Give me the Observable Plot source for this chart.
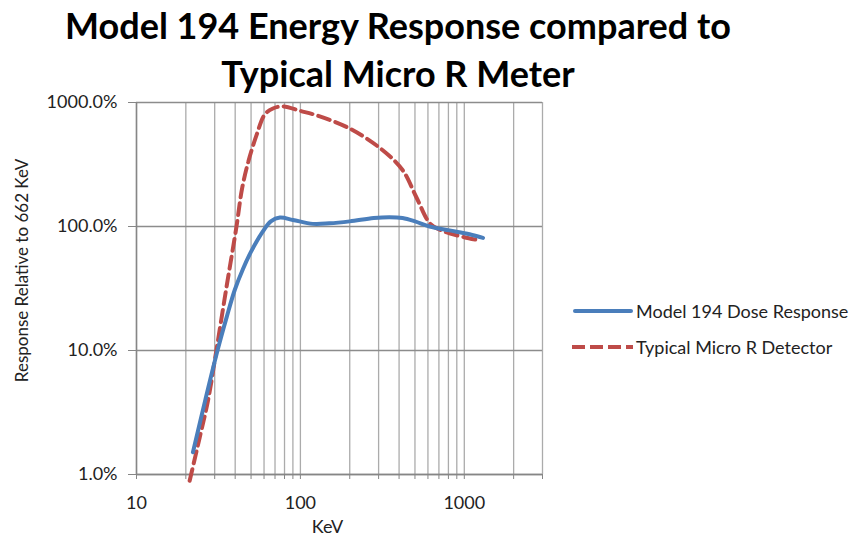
<!DOCTYPE html>
<html>
<head>
<meta charset="utf-8">
<script src="https://cdn.jsdelivr.net/npm/d3@7"></script>
<script src="https://cdn.jsdelivr.net/npm/@observablehq/plot@0.6"></script>
<style>
  html, body { margin: 0; padding: 0; background: #fff; }
  #wrap { position: relative; width: 854px; height: 537px; overflow: hidden; font-family: Lato, "Open Sans", sans-serif; }
  #chart { position: absolute; left: 0; top: 0; }
  .title { position: absolute; left: 0; width: 796px; text-align: center; font-weight: bold; font-size: 36px; line-height: 48px; color: #000; white-space: nowrap; }
  .legend { position: absolute; left: 572px; font-size: 18px; line-height: 22px; color: #222; display: flex; align-items: center; white-space: nowrap; }
  .legend svg { margin-right: 3px; }
</style>
</head>
<body>
<div id="wrap">
  <div id="chart"></div>
  <div class="title" style="top:1px">Model 194 Energy Response compared to</div>
  <div class="title" style="top:49px">Typical Micro R Meter</div>
  <div class="legend" style="top:300px"><svg width="61" height="8"><line x1="3" y1="4" x2="59" y2="4" stroke="#4A7EBB" stroke-width="4" stroke-linecap="round"/></svg>Model 194 Dose Response</div>
  <div class="legend" style="top:336px"><svg width="61" height="8"><line x1="0" y1="4" x2="61" y2="4" stroke="#BE4B48" stroke-width="4" stroke-dasharray="13,5"/></svg>Typical Micro R Detector</div>
</div>
<script>
// Series names
const seriesNames = ["Model 194 Dose Response", "Typical Micro R Detector"];

// Model 194 Dose Response (keV, % relative to 662 keV)
const modelKeV  = [22.1, 26.3, 31.2, 35.5, 39.8, 44.7, 50.1, 58.9, 66, 75, 90, 119, 150, 200, 280, 350, 420, 500, 614, 813, 1077, 1300];
const modelResp = [1.51, 4.0, 10, 18.6, 30.9, 45.7, 63, 91, 110, 118, 113, 105, 106, 110, 117, 119, 117, 110, 100, 93, 86.5, 81];

// Typical Micro R Detector
const microKeV  = [21.1, 24.3, 27.3, 30.7, 35.4, 40.7, 44, 48, 54, 60.6, 68, 78, 100, 125, 200, 318, 421, 509, 616, 700, 813, 1000, 1250];
const microResp = [0.89, 1.99, 3.94, 10, 32.4, 99, 200, 330, 545, 800, 895, 930, 855, 789, 617, 412, 284, 173, 106, 95, 88, 82, 77];

// Axis ticks
const xGrid = [10,20,30,40,50,60,70,80,90,100,200,300,400,500,600,700,800,900,1000,2000,3000];
const xLabels = [10, 100, 1000];
const yTicks = [1, 10, 100, 1000];

const xTitle = "KeV";
const yTitle = "Response Relative to 662 KeV";

const modelData = modelKeV.map((k, i) => ({keV: k, resp: modelResp[i]}));
const microData = microKeV.map((k, i) => ({keV: k, resp: microResp[i]}));

const font = "Lato, 'Open Sans', sans-serif";

const plot = Plot.plot({
  width: 854,
  height: 537,
  marginLeft: 136,
  marginRight: 312,
  marginTop: 102,
  marginBottom: 63,
  style: {fontFamily: font, background: "transparent", color: "#222"},
  x: {type: "log", domain: [10, 3000]},
  y: {type: "log", domain: [1, 1000]},
  marks: [
    Plot.ruleX(xGrid, {stroke: "#ABABAB", strokeWidth: 1.3}),
    Plot.ruleY(yTicks, {stroke: "#8C8C8C", strokeWidth: 1.3}),
    Plot.ruleX([10], {stroke: "#868686", strokeWidth: 1.5}),
    Plot.ruleY([1], {stroke: "#868686", strokeWidth: 1.5}),
    Plot.axisX({ticks: xGrid, tickSize: 5, tickPadding: 17, stroke: "#868686",
      tickFormat: d => xLabels.includes(d) ? String(d) : "", fontSize: 18, label: null}),
    Plot.axisY({ticks: yTicks, tickSize: 8, tickPadding: 11, stroke: "#868686",
      tickFormat: d => d.toFixed(1) + "%", fontSize: 18, label: null}),
    Plot.text([xTitle], {frameAnchor: "bottom", lineAnchor: "middle", dx: -12, dy: 53, fontSize: 18, fill: "#222"}),
    Plot.text([yTitle], {frameAnchor: "left", textAnchor: "middle", rotate: -90, dx: -114, dy: -18, fontSize: 17, fill: "#222"}),
    Plot.line(microData, {x: "keV", y: "resp", curve: "catmull-rom", stroke: "#BE4B48", strokeWidth: 4, strokeDasharray: "12,6"}),
    Plot.line(modelData, {x: "keV", y: "resp", curve: "catmull-rom", stroke: "#4A7EBB", strokeWidth: 4, strokeLinecap: "round"})
  ]
});
document.getElementById("chart").appendChild(plot);
</script>
</body>
</html>
